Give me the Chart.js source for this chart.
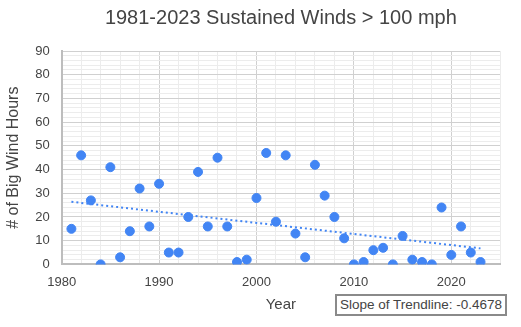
<!DOCTYPE html>
<html><head><meta charset="utf-8">
<script src="https://cdn.jsdelivr.net/npm/chart.js@4"></script>
<style>
html,body{margin:0;padding:0;background:#fff;}
#wrap{position:relative;width:521px;height:327px;}
#note{position:absolute;left:335px;top:294px;width:168px;height:18px;border:2px solid #8a8a8a;font:13.5px "Liberation Sans",Arial,sans-serif;color:#444;line-height:18px;text-align:center;box-sizing:content-box;background:#fff;white-space:nowrap;}
</style></head>
<body><div id="wrap"><canvas id="c" width="521" height="327"></canvas><div id="note">Slope of Trendline: -0.4678</div></div>
<script>
const years = [1981,1982,1983,1984,1985,1986,1987,1988,1989,1990,1991,1992,1993,1994,1995,1996,1997,1998,1999,2000,2001,2002,2003,2004,2005,2006,2007,2008,2009,2010,2011,2012,2013,2014,2015,2016,2017,2018,2019,2020,2021,2022,2023];
const windHours = [15,46,27,0,41,3,14,32,16,34,5,5,20,39,16,45,16,1,2,28,47,18,46,13,3,42,29,20,11,0,1,6,7,0,12,2,1,0,24,4,16,5,1];
const xTickLabels = [1980,1990,2000,2010,2020];
const yTickLabels = [0,10,20,30,40,50,60,70,80,90];

// least-squares trendline from the data
const n = years.length;
const mx = years.reduce((a,b)=>a+b,0)/n, my = windHours.reduce((a,b)=>a+b,0)/n;
let sxy=0,sxx=0; for(let i=0;i<n;i++){sxy+=(years[i]-mx)*(windHours[i]-my);sxx+=(years[i]-mx)**2;}
const slope=sxy/sxx, icpt=my-slope*mx;
const trend=[{x:years[0],y:icpt+slope*years[0]},{x:years[n-1],y:icpt+slope*years[n-1]}];

const blue='#4285F4';
const font={family:'"Liberation Sans", Arial, sans-serif'};
new Chart(document.getElementById('c'),{
  type:'scatter',
  data:{datasets:[
    {data:trend,type:'line',borderColor:blue,borderWidth:2,borderDash:[2,3],pointRadius:0,fill:false,order:2},
    {data:years.map((y,i)=>({x:y,y:windHours[i]})),backgroundColor:blue,borderColor:blue,pointRadius:4.5,pointHoverRadius:4.5,order:1}
  ]},
  options:{
    responsive:false,animation:false,devicePixelRatio:1,
    layout:{padding:{left:3,right:21,top:0,bottom:13}},
    plugins:{legend:{display:false},tooltip:{enabled:false},
      title:{display:true,fullSize:false,text:'1981-2023 Sustained Winds > 100 mph',color:'#444',font:{...font,size:20,weight:'normal'},padding:{top:6,bottom:21}}},
    scales:{
      x:{type:'linear',min:1980,max:2025,
        ticks:{stepSize:2,autoSkip:false,maxRotation:0,color:'#444',font:{...font,size:13},padding:10,
          callback:v=>xTickLabels.includes(v)?String(v):''},
        grid:{color:c=>xTickLabels.includes(c.tick&&c.tick.value)?'#d0d0d0':'#ececec',lineWidth:1,drawTicks:false,tickLength:0},
        border:{color:'#bdbdbd',width:2},
        title:{display:true,text:'Year',color:'#444',font:{...font,size:15},padding:{top:-4,bottom:0}}},
      y:{min:0,max:90,
        ticks:{stepSize:2,autoSkip:false,color:'#444',font:{...font,size:13},padding:12,
          callback:v=>yTickLabels.includes(v)?String(v):''},
        grid:{color:c=>yTickLabels.includes(c.tick&&c.tick.value)?'#d0d0d0':'#ececec',lineWidth:1,drawTicks:false},
        border:{color:'#bdbdbd',width:2},
        title:{display:true,text:'# of Big Wind Hours',color:'#444',font:{...font,size:16},padding:{top:1,bottom:0}}}
    }
  }
});
</script></body></html>
